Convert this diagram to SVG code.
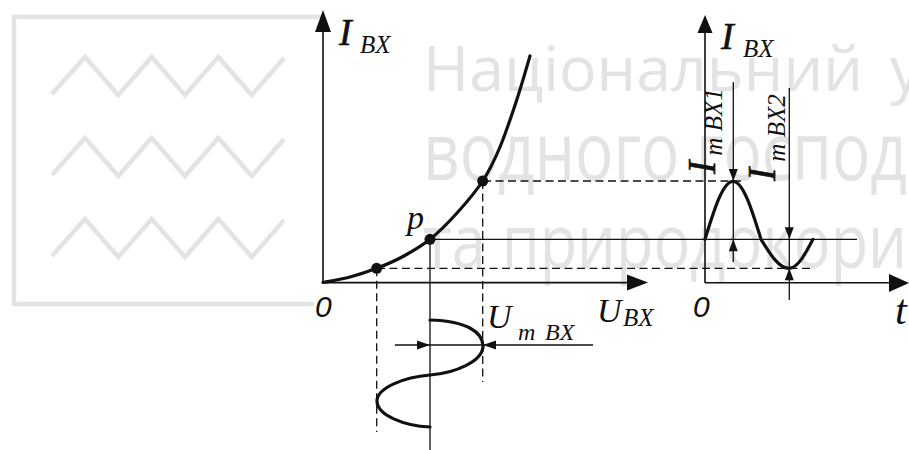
<svg xmlns="http://www.w3.org/2000/svg" width="909" height="450" viewBox="0 0 909 450">
<style>
.wm{fill:none;stroke:#e3e3e3;stroke-width:4.5;stroke-linejoin:miter}
.wt{fill:#e3e3e3;font-family:"Open Sans","Noto Sans",sans-serif}
.ax{fill:none;stroke:#111;stroke-width:1.6}
.thin{fill:none;stroke:#111;stroke-width:1.3}
.dash{fill:none;stroke:#111;stroke-width:1.3;stroke-dasharray:8 4.5}
.crv{fill:none;stroke:#111;stroke-width:3.2;stroke-linecap:round}
.ah{fill:#111;stroke:none}
.lb{fill:#111;font-family:"Liberation Serif","Times New Roman",serif;font-style:italic}
.big{stroke:#111;stroke-width:0.6}
.zr{fill:#111;font-family:"Liberation Sans",Arial,sans-serif;font-style:italic}
</style>
<g id="watermark">
<path class="wm" d="M322,17 H14 V304 H314"/>
<path class="wm" d="M52,94 L85,57 L118.3,95 L151.7,57 L185,95 L218.3,57 L251.7,95 L284,58"/>
<path class="wm" d="M52,175 L85,138 L118.3,176 L151.7,138 L185,176 L218.3,138 L251.7,176 L284,139"/>
<path class="wm" d="M52,256 L85,219 L118.3,257 L151.7,219 L185,257 L218.3,219 L251.7,257 L284,220"/>
<text class="wt" x="423" y="91" font-size="62" textLength="440" lengthAdjust="spacingAndGlyphs">Національний</text>
<text class="wt" x="890" y="91" font-size="62">у</text>
<text class="wt" transform="translate(0,180) scale(1,1.3)" x="423" y="0" font-size="62" textLength="484" lengthAdjust="spacingAndGlyphs">водного господ</text>
<text class="wt" transform="translate(0,268) scale(1,1.2)" x="423" y="0" font-size="62" textLength="484" lengthAdjust="spacingAndGlyphs">та природокори</text>
</g>
<g id="connectors">
<path class="dash" d="M377,268.3 H812 M483,181 H745 M376.7,268.3 V432 M482.7,181 V382"/>
<path class="thin" d="M430,239.3 H857 M430,239.3 V450 M395,345 H593 M733.3,82 V262 M789.3,88 V300"/>
<path class="ah" d="M430,345 l-13,-4.5 v9 z M483,345 l13,-4.5 v9 z M733.3,181 l-4.5,-12 h9 z M733.3,239.3 l-4.5,12 h9 z M789.3,239.3 l-4.5,-12 h9 z M789.3,268.3 l-4.5,12 h9 z"/>
</g>
<g id="input-characteristic">
<path class="ax" d="M323,283 V28 M323,282.6 H630"/>
<path class="ah" d="M323,10 l-8,22 h16 z M648,282.6 l-21,-8 v16 z"/>
<path class="crv" d="M323,282.5 C327.5,281.6 341.05,279.37 350,277 C358.95,274.63 367.87,271.72 376.7,268.3 C385.53,264.88 394.12,261.33 403,256.5 C411.88,251.67 421,246.55 430,239.3 C439,232.05 448.22,222.72 457,213 C465.78,203.28 475.53,192 482.7,181 C489.87,170 494.33,160.5 500,147 C505.67,133.5 511.7,115.17 516.7,100 C521.7,84.83 527.78,63.33 530,56"/>
<circle class="ah" cx="376.7" cy="268.3" r="5.5"/>
<circle class="ah" cx="430" cy="239.3" r="5.5"/>
<circle class="ah" cx="482.7" cy="181" r="5.5"/>
<text class="lb big" x="339" y="45" font-size="38">I</text>
<text class="lb" x="360" y="53" font-size="25">BX</text>
<text class="lb" x="407" y="229" font-size="34">p</text>
<text class="zr" x="315" y="317" font-size="30">0</text>
<text class="lb" x="597" y="322" font-size="34">U</text>
<text class="lb" x="623" y="326" font-size="25">BX</text>
</g>
<g id="input-voltage">
<path class="crv" d="M430,320 C468,321 483,333 483,346 C483,361 456,373 430,375 C404,377 377,388 377,401 C377,415 404,426 430,427"/>
<text class="lb" x="487" y="328" font-size="34">U</text>
<text class="lb" x="518" y="340" font-size="24">m</text>
<text class="lb" x="545" y="340" font-size="24">BX</text>
</g>
<g id="input-current">
<path class="ax" d="M705,283 V32 M705,282.8 H890"/>
<path class="ah" d="M705,15 l-7.5,18 h15 z M909,283 l-20,-9 v18 z"/>
<path class="crv" d="M705,239.3 C714.13,209.59 722.87,181.3 733,181.3 C743.14,181.3 751.87,209.59 761,239.3 C770.13,254.16 778.87,268.3 789,268.3 C797.69,268.3 805.17,254.16 813,239.3"/>
<text class="lb big" x="721" y="49" font-size="38">I</text>
<text class="lb" x="743" y="57" font-size="25">BX</text>
<text class="zr" x="693" y="317" font-size="30">0</text>
<text class="lb" x="895" y="324" font-size="42">t</text>
<text class="lb" transform="translate(715,174) rotate(-90)"><tspan class="big" font-size="40">I</tspan><tspan font-size="25" dx="5" dy="7">m BX1</tspan></text>
<text class="lb" transform="translate(775,181) rotate(-90)"><tspan class="big" font-size="40">I</tspan><tspan font-size="25" dx="6" dy="10">m BX2</tspan></text>
</g>
</svg>
